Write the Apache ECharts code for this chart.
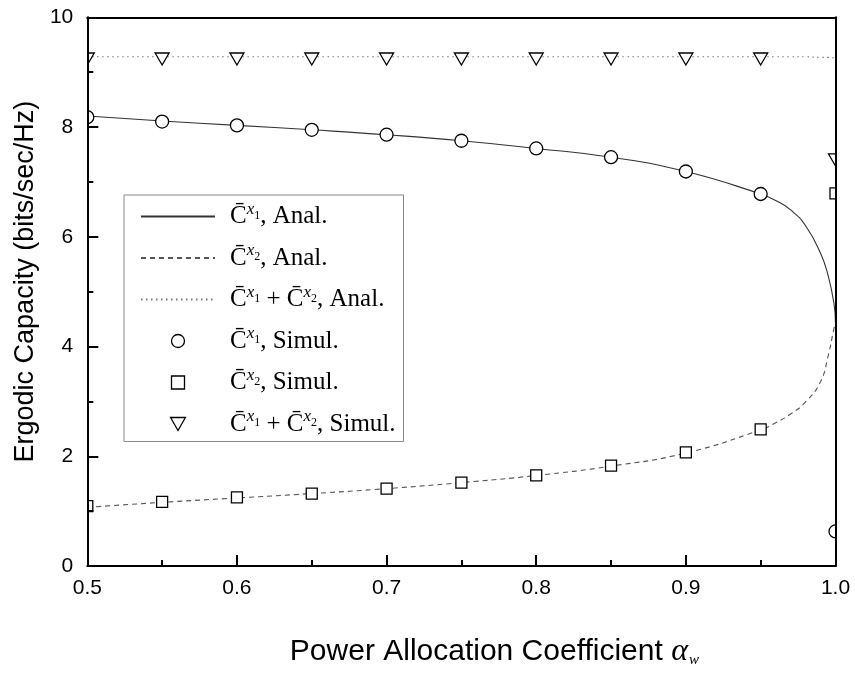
<!DOCTYPE html>
<html>
<head>
<meta charset="utf-8">
<script src="https://cdn.jsdelivr.net/npm/echarts@6/dist/echarts.min.js"></script>
<style>
html,body{margin:0;padding:0;background:#fff;}
#chart{width:855px;height:673px;}
</style>
</head>
<body>
<div id="chart"></div>
<script>
// ---- data ----
var alphaSim = [0.5, 0.55, 0.6, 0.65, 0.7, 0.75, 0.8, 0.85, 0.9, 0.95, 1.0];
var c1Sim  = [8.18, 8.10, 8.03, 7.95, 7.86, 7.75, 7.61, 7.45, 7.19, 6.78, 0.63];
var c2Sim  = [1.09, 1.17, 1.25, 1.32, 1.41, 1.52, 1.65, 1.83, 2.07, 2.49, 6.79];
var sumSim = [9.24, 9.24, 9.24, 9.24, 9.24, 9.24, 9.24, 9.24, 9.24, 9.24, 7.40];

var alphaAnal = [0.5, 0.55, 0.6, 0.65, 0.7, 0.75, 0.8, 0.85, 0.9, 0.95, 0.96, 0.97, 0.98, 0.99, 0.995, 0.999, 1.0];
var c1Anal  = [8.20, 8.11, 8.03, 7.95, 7.86, 7.75, 7.61, 7.45, 7.19, 6.78, 6.66, 6.49, 6.20, 5.70, 5.30, 4.78, 4.43];
var c2Anal  = [1.07, 1.16, 1.24, 1.32, 1.41, 1.52, 1.65, 1.82, 2.06, 2.48, 2.61, 2.77, 2.99, 3.36, 3.82, 4.33, 4.43];
var sumAnal = [9.28, 9.28, 9.28, 9.28, 9.28, 9.28, 9.28, 9.28, 9.28, 9.28, 9.28, 9.28, 9.28, 9.27, 9.27, 9.26, 9.26];

var xTicks = {min: 0.5, max: 1.0, interval: 0.1};
var yTicks = {min: 0, max: 10, interval: 2};

var legendNames = ['c1a', 'c2a', 'suma', 'c1s', 'c2s', 'sums'];
var legendTexts = {
  c1a:  '{c|C\u0304}{sup|x}{sub|1}{t|, Anal.}',
  c2a:  '{c|C\u0304}{sup|x}{sub|2}{t|, Anal.}',
  suma: '{c|C\u0304}{sup|x}{sub|1}{t| + }{c|C\u0304}{sup|x}{sub|2}{t|, Anal.}',
  c1s:  '{c|C\u0304}{sup|x}{sub|1}{t|, Simul.}',
  c2s:  '{c|C\u0304}{sup|x}{sub|2}{t|, Simul.}',
  sums: '{c|C\u0304}{sup|x}{sub|1}{t| + }{c|C\u0304}{sup|x}{sub|2}{t|, Simul.}'
};

function pairs(xs, ys) { return xs.map(function (x, i) { return [x, ys[i]]; }); }

var G = {left: 87.3, right: 19.5, top: 17.3, bottom: 105.3};
var chart = echarts.init(document.getElementById('chart'), null, {renderer: 'canvas'});
var serif = '"Liberation Serif", "Times New Roman", serif';
var sans = '"Liberation Sans", Arial, sans-serif';
var triPath = 'path://M0,0 L2,0 L1,1.75 Z';
var sqPath = 'path://M0,0 L1,0 L1,1 L0,1 Z';
var markStyle = {fill: '#fff', stroke: '#000', lineWidth: 1.3};
var legendMarkStyle = {color: '#fff', borderColor: '#000', borderWidth: 1.3, opacity: 1};

var legendData = [
  {name: 'c1a', itemStyle: {opacity: 0}},
  {name: 'c2a', itemStyle: {opacity: 0}},
  {name: 'suma', itemStyle: {opacity: 0}},
  {name: 'c1s', icon: 'circle', itemStyle: legendMarkStyle},
  {name: 'c2s', icon: sqPath, itemStyle: legendMarkStyle},
  {name: 'sums', icon: triPath, itemStyle: legendMarkStyle}
];

function markerRenderer(kind) {
  return function (params, api) {
    var p = api.coord([api.value(0), api.value(1)]);
    var cx = p[0], cy = p[1];
    if (kind === 'circle') {
      return {type: 'circle', shape: {cx: cx, cy: cy, r: 6.5}, style: markStyle};
    }
    if (kind === 'square') {
      return {type: 'rect', shape: {x: cx - 5.5, y: cy - 5.5, width: 11, height: 11}, style: markStyle};
    }
    return {type: 'polygon', shape: {points: [[cx - 7, cy - 6], [cx + 7, cy - 6], [cx, cy + 6]]}, style: markStyle};
  };
}

var option = {
  animation: false,
  backgroundColor: '#fff',
  grid: {left: G.left, right: G.right, top: G.top, bottom: G.bottom, containLabel: false},
  xAxis: [{
    type: 'value', min: xTicks.min, max: xTicks.max, interval: xTicks.interval, z: 10,
    axisLine: {show: true, onZero: false, lineStyle: {color: '#000', width: 2}},
    axisTick: {show: true, inside: true, length: 11, lineStyle: {color: '#000', width: 2}},
    minorTick: {show: true, splitNumber: 2, length: 6, lineStyle: {color: '#000', width: 2}},
    splitLine: {show: false},
    axisLabel: {margin: 12, color: '#000', fontSize: 21, fontFamily: sans,
      formatter: function (v) { return v.toFixed(1); }},
    name: '{t|Power Allocation Coefficient }{a|\u03B1}{w|w}',
    nameLocation: 'middle', nameGap: 70,
    nameTextStyle: {padding: [0, 0, 0, 66], rich: {
      t: {fontSize: 30, fontFamily: sans, color: '#000'},
      a: {fontSize: 32, fontFamily: serif, fontStyle: 'italic', color: '#000'},
      w: {fontSize: 15, fontFamily: serif, fontStyle: 'italic', color: '#000', padding: [16, 0, 0, 1]}
    }}
  }, {
    type: 'value', position: 'top', min: xTicks.min, max: xTicks.max, z: 10,
    axisLine: {show: true, onZero: false, lineStyle: {color: '#000', width: 2}},
    axisTick: {show: false}, axisLabel: {show: false}, splitLine: {show: false}
  }],
  yAxis: [{
    type: 'value', min: yTicks.min, max: yTicks.max, interval: yTicks.interval, z: 10,
    axisLine: {show: true, onZero: false, lineStyle: {color: '#000', width: 2}},
    axisTick: {show: true, inside: true, length: 11, lineStyle: {color: '#000', width: 2}},
    minorTick: {show: true, splitNumber: 2, length: 6, lineStyle: {color: '#000', width: 2}},
    splitLine: {show: false},
    axisLabel: {margin: 14, color: '#000', fontSize: 21, fontFamily: sans},
    name: 'Ergodic Capacity (bits/sec/Hz)',
    nameLocation: 'middle', nameGap: 42,
    nameTextStyle: {fontSize: 27, fontFamily: sans, color: '#000', padding: [0, 0, 0, 20]}
  }, {
    type: 'value', position: 'right', min: yTicks.min, max: yTicks.max, z: 10,
    axisLine: {show: true, onZero: false, lineStyle: {color: '#000', width: 2}},
    axisTick: {show: false}, axisLabel: {show: false}, splitLine: {show: false}
  }],
  legend: {
    orient: 'vertical', left: 124, top: 195,
    data: legendData,
    itemWidth: 74, itemHeight: 13, itemGap: 11.5,
    padding: [6, 8, 3, 16],
    borderColor: '#888', borderWidth: 1,
    inactiveColor: '#000',
    formatter: function (n) { return legendTexts[n]; },
    textStyle: {
      padding: [0, 0, 0, 10],
      rich: {
        c: {fontSize: 25, fontFamily: serif, color: '#000', height: 29, lineHeight: 29},
        sup: {fontSize: 17, fontFamily: serif, fontStyle: 'italic', color: '#000', padding: [0, 0, 14, 0]},
        sub: {fontSize: 12, fontFamily: serif, color: '#000', padding: [0, 0, 2, 0]},
        t: {fontSize: 25, fontFamily: serif, color: '#000', height: 29, lineHeight: 29}
      }
    }
  },
  series: [
    {name: 'c1a', type: 'line', data: pairs(alphaAnal, c1Anal), showSymbol: false, symbol: 'none',
     smooth: 0.5, lineStyle: {color: '#333', width: 1.1, type: 'solid'}, itemStyle: {color: '#333'}, z: 2},
    {name: 'c2a', type: 'line', data: pairs(alphaAnal, c2Anal), showSymbol: false, symbol: 'none',
     smooth: 0.5, lineStyle: {color: '#555', width: 1.1, type: [5, 4]}, itemStyle: {color: '#555'}, z: 2},
    {name: 'suma', type: 'line', data: pairs(alphaAnal, sumAnal), showSymbol: false, symbol: 'none',
     smooth: 0.5, lineStyle: {color: '#777', width: 1.1, type: [1.5, 3.5]}, itemStyle: {color: '#777'}, z: 2},
    {name: 'c1s', type: 'custom', data: pairs(alphaSim, c1Sim), renderItem: markerRenderer('circle'), clip: true,
     itemStyle: {color: '#fff', borderColor: '#000'}, z: 3},
    {name: 'c2s', type: 'custom', data: pairs(alphaSim, c2Sim), renderItem: markerRenderer('square'), clip: true,
     itemStyle: {color: '#fff', borderColor: '#000'}, z: 3},
    {name: 'sums', type: 'custom', data: pairs(alphaSim, sumSim), renderItem: markerRenderer('triangle'), clip: true,
     itemStyle: {color: '#fff', borderColor: '#000'}, z: 3}
  ]
};
chart.setOption(option);
</script>
</body>
</html>
